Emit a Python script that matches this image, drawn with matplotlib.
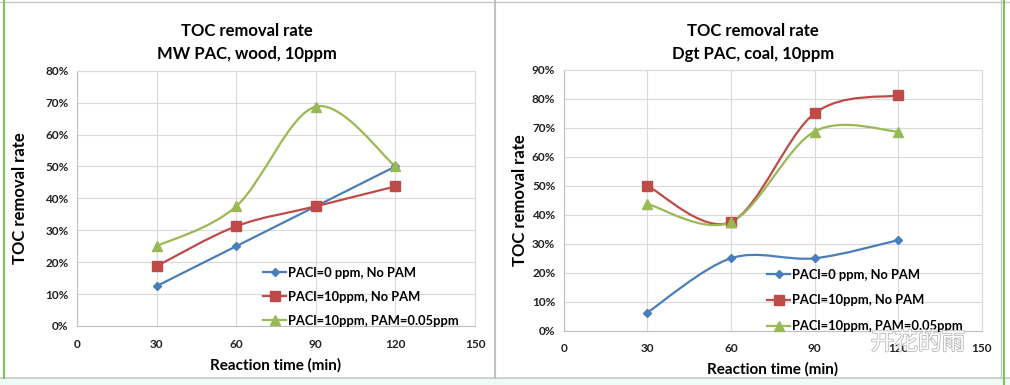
import matplotlib
matplotlib.use("Agg")
import matplotlib.pyplot as plt
from matplotlib.path import Path
from matplotlib.patches import PathPatch, Rectangle
from matplotlib.lines import Line2D
import matplotlib.patheffects as pe
import numpy as np

plt.rcParams['font.family'] = ['Lato', 'DejaVu Sans']

# ---- data ----
times = [30, 60, 90, 120]
series_labels = ["PACl=0 ppm, No PAM", "PACl=10ppm, No PAM", "PACl=10ppm, PAM=0.05ppm"]

left_pacl0 = [12.5, 25.0, 37.5, 50.0]
left_pacl10 = [18.75, 31.25, 37.5, 43.75]
left_pacl10_pam = [25.0, 37.5, 68.75, 50.0]

right_pacl0 = [6.25, 25.0, 25.0, 31.25]
right_pacl10 = [50.0, 37.5, 75.0, 81.25]
right_pacl10_pam = [43.75, 37.5, 68.75, 68.75]

left_title = "TOC removal rate\nMW PAC, wood, 10ppm"
right_title = "TOC removal rate\nDgt PAC, coal, 10ppm"
xlabel = "Reaction time (min)"
ylabel = "TOC removal rate"
xticks = [0, 30, 60, 90, 120, 150]
left_yticks = [0, 10, 20, 30, 40, 50, 60, 70, 80]
right_yticks = [0, 10, 20, 30, 40, 50, 60, 70, 80, 90]

colors = ['#4a7ebb', '#be4b48', '#98b954']
markers = ['D', 's', '^']
msizes = [4.0, 6.5, 6.5]

W, H = 1010, 385
fig = plt.figure(figsize=(W / 100, H / 100), dpi=100)
fig.patch.set_facecolor('white')


def smooth_path(ax, xs, ys, color):
    """Excel-style smoothed line: cubic Bezier through the data points."""
    pts = np.column_stack([xs, ys]).astype(float)
    n = len(pts)
    verts = [pts[0]]
    codes = [Path.MOVETO]
    for i in range(n - 1):
        p0 = pts[i - 1] if i > 0 else pts[i]
        p1 = pts[i]
        p2 = pts[i + 1]
        p3 = pts[i + 2] if i + 2 < n else pts[i + 1]
        c1 = p1 + (p2 - p0) / 6.0
        c2 = p2 - (p3 - p1) / 6.0
        verts += [c1, c2, p2]
        codes += [Path.CURVE4] * 3
    patch = PathPatch(Path(verts, codes), facecolor='none', edgecolor=color,
                      lw=1.6, transform=ax.transData, zorder=3)
    ax.add_patch(patch)


def make_panel(rect, title, yticks, data, legend_anchor, spacing, title_x, ylabel_x):
    ax = fig.add_axes(rect)
    for i, ys in enumerate(data):
        smooth_path(ax, times, ys, colors[i])
        ax.plot(times, ys, linestyle='none', marker=markers[i], ms=msizes[i],
                color=colors[i], zorder=4)
    ax.set_xlim(0, 150)
    ax.set_ylim(0, yticks[-1])
    ax.set_xticks(xticks)
    ax.set_yticks(yticks)
    ax.set_yticklabels([f"{v}%" for v in yticks])
    ax.tick_params(length=0, labelsize=8.5, colors='#222222')
    ax.tick_params(axis='x', pad=9)
    ax.tick_params(axis='y', pad=6)
    for lbl in ax.get_xticklabels() + ax.get_yticklabels():
        lbl.set_fontweight('bold')
    ax.grid(True, color='#d9d9d9', lw=0.8)
    ax.set_axisbelow(True)
    for s in ax.spines.values():
        s.set_color('#d9d9d9')
        s.set_linewidth(0.8)
    ax.spines['left'].set_color('#bfbfbf')
    ax.spines['bottom'].set_color('#bfbfbf')
    ax.set_xlabel(xlabel, fontsize=11, fontweight='bold', labelpad=6)
    fig.text(ylabel_x, rect[1] + rect[3] / 2, ylabel, rotation=90, fontsize=12,
             fontweight='bold', ha='center', va='center')
    fig.text(title_x, 1 - 42.5 / H, title, ha='center', va='center', fontsize=12,
             fontweight='bold', linespacing=1.55)
    handles = [Line2D([], [], color=colors[i], marker=markers[i], ms=msizes[i], lw=1.6)
               for i in range(3)]
    leg = ax.legend(handles, series_labels, loc='upper left', bbox_to_anchor=legend_anchor,
                    frameon=False, fontsize=9.3, handlelength=1.75, handletextpad=0.15,
                    labelspacing=spacing, borderaxespad=0, borderpad=0)
    for t in leg.get_texts():
        t.set_fontweight('bold')
    return ax


left_rect = [77 / W, 1 - 326 / H, 398 / W, 255.3 / H]
right_rect = [563.7 / W, 1 - 330.7 / H, 418 / W, 260.7 / H]

make_panel(left_rect, left_title, left_yticks,
           [left_pacl0, left_pacl10, left_pacl10_pam],
           (0.468, 0.232), 0.92, 247 / W, 20 / W)
make_panel(right_rect, right_title, right_yticks,
           [right_pacl0, right_pacl10, right_pacl10_pam],
           (0.487, 0.237), 1.05, 753 / W, 520 / W)

# watermark
fig.text(918 / W, 1 - 343 / H, "开花的雨", family=['Noto Sans CJK SC', 'DejaVu Sans'],
         fontsize=17, color='white', ha='center', va='center',
         path_effects=[pe.withStroke(linewidth=1.2, foreground='#b8b8b8')], zorder=10)

# frame decorations
fig.add_artist(Rectangle((0, 0), 1, 7 / H, transform=fig.transFigure,
                         facecolor='#eefaf5', edgecolor='none'))
fig.add_artist(Line2D([0, 1], [1 - 378 / H] * 2, transform=fig.transFigure,
                      color='#c8c8c8', lw=1.2))
fig.add_artist(Line2D([0, 1], [1 - 2 / H] * 2, transform=fig.transFigure,
                      color='#c8c8c8', lw=1.0))
fig.add_artist(Line2D([494.5 / W] * 2, [1 - 378 / H, 1], transform=fig.transFigure,
                      color='#c0c0c0', lw=1.5))
fig.add_artist(Line2D([4 / W] * 2, [1 - 378 / H, 1], transform=fig.transFigure,
                      color='#7cc35a', lw=1.5))
fig.add_artist(Line2D([1000.5 / W] * 2, [1 - 378 / H, 1], transform=fig.transFigure,
                      color='#c8c8c8', lw=1.0))
fig.add_artist(Line2D([1003.5 / W] * 2, [0, 1], transform=fig.transFigure,
                      color='#7cc35a', lw=1.5))

fig.savefig("out.png", dpi=100)
